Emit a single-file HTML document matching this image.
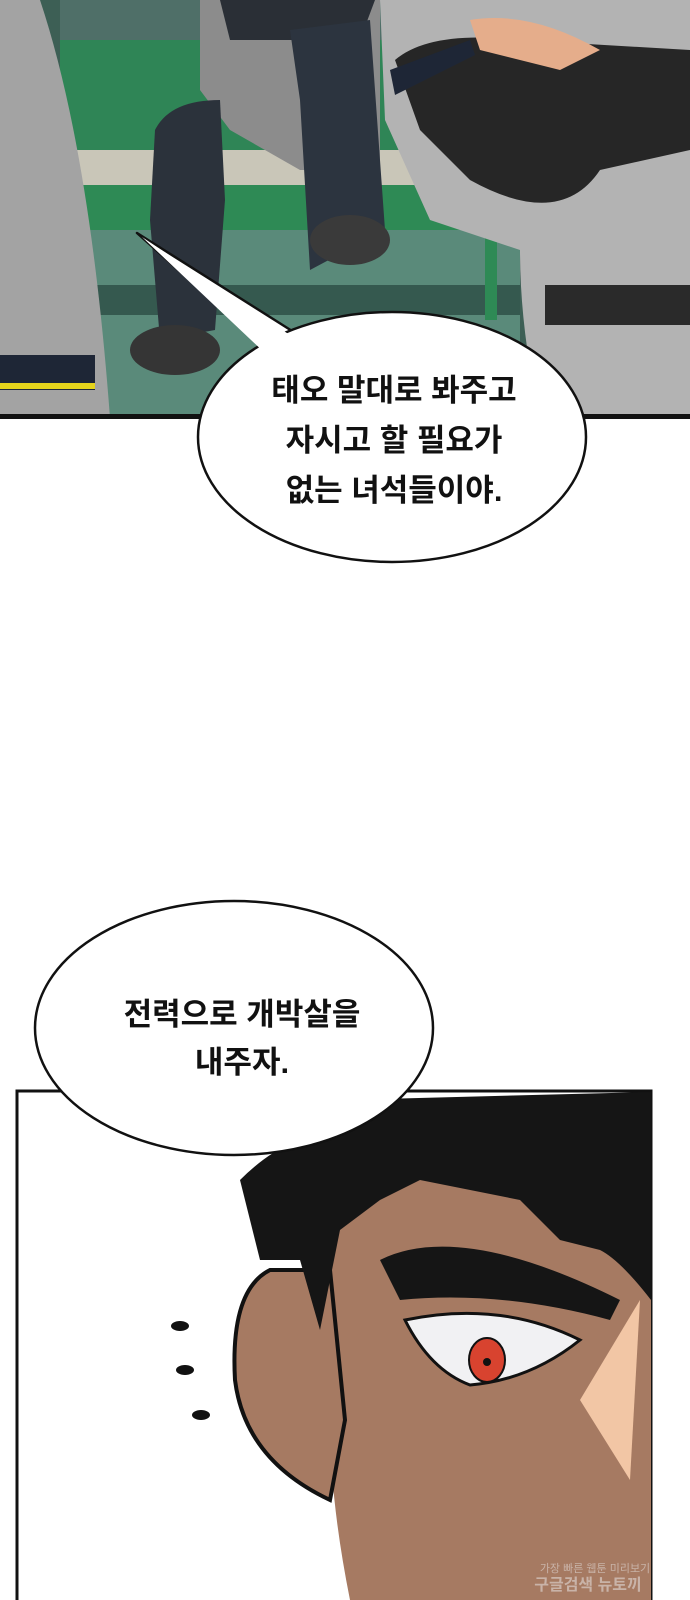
<!DOCTYPE html>
<html><head><meta charset="utf-8"><style>
html,body{margin:0;padding:0;background:#fff;width:690px;height:1600px;overflow:hidden}
.t{font-family:"Liberation Sans","Noto Sans CJK KR",sans-serif;font-weight:bold;font-size:31px;fill:#111;text-anchor:middle}
</style></head><body>
<svg width="690" height="1600" viewBox="0 0 690 1600" xmlns="http://www.w3.org/2000/svg">
<rect x="0" y="0" width="690" height="418" fill="#3d5f55"/>
<rect x="60" y="0" width="470" height="40" fill="#4f6f68"/>
<rect x="60" y="40" width="470" height="120" fill="#2f8556"/>
<rect x="70" y="150" width="420" height="35" fill="#c9c6b8"/>
<rect x="80" y="185" width="420" height="45" fill="#2e8a55"/>
<rect x="80" y="230" width="440" height="188" fill="#5a8a7a"/>
<rect x="80" y="285" width="440" height="30" fill="#35594f"/>
<rect x="485" y="150" width="12" height="170" fill="#2e8a55"/>
<path d="M200 0 L380 0 L380 170 L300 170 L230 130 L200 90Z" fill="#8c8c8c"/>
<path d="M220 0 L375 0 L360 40 L230 40Z" fill="#2a2f36"/>
<path d="M155 130 Q170 100 220 100 L225 200 L215 330 L160 340 L150 220Z" fill="#2b323b"/>
<path d="M290 30 L370 20 L385 230 L310 270 L300 100Z" fill="#2c343f"/>
<ellipse cx="350" cy="240" rx="40" ry="25" fill="#3a3a3a"/>
<ellipse cx="175" cy="350" rx="45" ry="25" fill="#353535"/>
<path d="M0 0 L40 0 Q90 150 110 418 L0 418Z" fill="#a3a3a3"/>
<rect x="0" y="355" width="95" height="35" fill="#1e2636"/>
<rect x="0" y="383" width="95" height="6" fill="#e5d41c"/>
<path d="M380 0 L690 0 L690 418 L540 418 Q520 330 520 250 L430 220 L385 120Z" fill="#b3b3b3"/>
<path d="M395 60 Q430 30 520 40 L690 50 L690 150 L600 170 Q560 230 470 180 L420 130Z" fill="#262626"/>
<path d="M390 70 L470 40 L475 55 L395 95Z" fill="#1e2636"/>
<path d="M470 20 Q530 10 600 50 L560 70 L480 50Z" fill="#e5ad8b"/>
<rect x="545" y="285" width="145" height="40" fill="#2a2a2a"/>
<rect x="0" y="414" width="690" height="5" fill="#111"/>
<!-- bubble 1 -->
<path d="M137 233 L300 336 L268 350 Z" fill="#fff" stroke="#111" stroke-width="2.5" stroke-linejoin="round"/>
<ellipse cx="392" cy="437" rx="194" ry="125" fill="#fff" stroke="#111" stroke-width="2.5"/>
<path d="M142 237 L305 345 L268 356 Z" fill="#fff"/>
<text class="t" x="394" y="401">태오 말대로 봐주고</text>
<text class="t" x="394" y="451">자시고 할 필요가</text>
<text class="t" x="394" y="501">없는 녀석들이야.</text>
<!-- bottom panel -->
<rect x="17" y="1091" width="634" height="520" fill="#fff" stroke="#111" stroke-width="3"/>
<path d="M300 1240 Q330 1160 420 1130 L651 1130 L651 1600 L350 1600 Q330 1500 330 1420 Z" fill="#a67a62"/>
<path d="M270 1270 Q230 1290 235 1380 Q245 1460 330 1500 L345 1420 L330 1270Z" fill="#a67a62" stroke="#111" stroke-width="4"/>
<path d="M240 1180 Q270 1150 300 1140 L340 1100 L651 1092 L651 1300 Q620 1260 600 1250 L560 1240 L520 1200 L420 1180 L380 1200 L340 1230 L320 1330 L300 1260 L260 1260 Z" fill="#151515"/>
<path d="M380 1260 Q460 1220 620 1300 L610 1320 Q500 1290 400 1300Z" fill="#151515"/>
<path d="M405 1320 Q500 1300 580 1340 Q530 1380 470 1385 Q430 1370 405 1320Z" fill="#f1f1f3" stroke="#111" stroke-width="3"/>
<ellipse cx="487" cy="1360" rx="18" ry="22" fill="#d8432f" stroke="#111" stroke-width="2"/>
<circle cx="487" cy="1362" r="4" fill="#111"/>
<path d="M640 1300 L630 1480 L580 1400Z" fill="#f2c6a5"/>
<ellipse cx="180" cy="1326" rx="9" ry="5" fill="#111"/>
<ellipse cx="185" cy="1370" rx="9" ry="5" fill="#111"/>
<ellipse cx="201" cy="1415" rx="9" ry="5" fill="#111"/>
<text x="595" y="1572" font-family="Liberation Sans,Noto Sans CJK KR,sans-serif" font-size="11" fill="#c9b3a8" text-anchor="middle">가장 빠른 웹툰 미리보기</text>
<text x="588" y="1590" font-family="Liberation Sans,Noto Sans CJK KR,sans-serif" font-size="16" font-weight="bold" fill="#c9b3a8" text-anchor="middle">구글검색 뉴토끼</text>
<!-- bubble 2 -->
<path d="M95 940 L130 955 L110 975Z" fill="#fff" stroke="#111" stroke-width="2"/>
<ellipse cx="234" cy="1028" rx="199" ry="127" fill="#fff" stroke="#111" stroke-width="2.5"/>
<path d="M99 943 L135 965 L118 985Z" fill="#fff"/>
<text class="t" x="242" y="1025">전력으로 개박살을</text>
<text class="t" x="242" y="1073">내주자.</text>
</svg>
</body></html>
